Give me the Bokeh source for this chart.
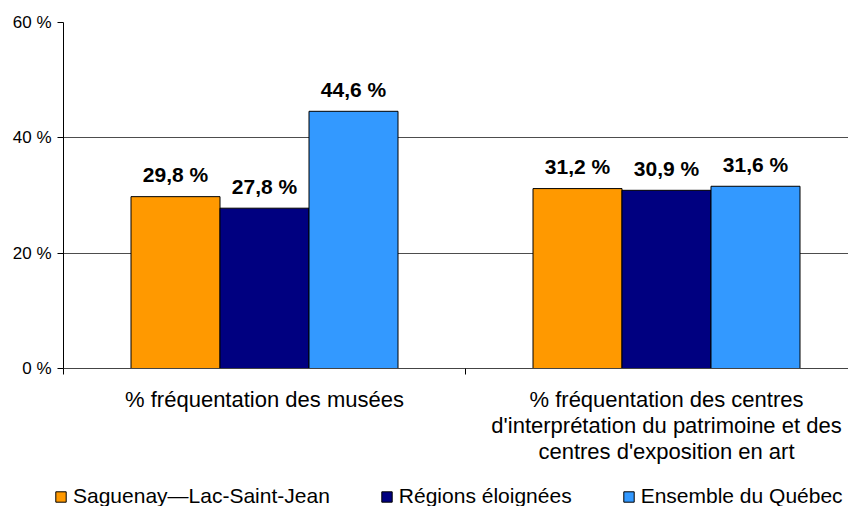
from bokeh.plotting import figure
from bokeh.models import Range1d, FixedTicker, Legend, LegendItem, ColumnDataSource
from bokeh.embed import file_html
from bokeh.resources import INLINE
from bokeh.core.properties import value

categories = [
    "% fréquentation des musées",
    "% fréquentation des centres\nd'interprétation du patrimoine et des\ncentres d'exposition en art",
]
series_names = ["Saguenay—Lac-Saint-Jean", "Régions éloignées", "Ensemble du Québec"]
saguenay = [29.8, 31.2]
regions_eloignees = [27.8, 30.9]
ensemble_quebec = [44.6, 31.6]
y_ticks = [0, 20, 40, 60]
y_tick_labels = ["0 %", "20 %", "40 %", "60 %"]

colors = ["#FF9900", "#000080", "#3399FF"]
series = [saguenay, regions_eloignees, ensemble_quebec]

FONT = "Liberation Sans"
W = 848

p = figure(width=W, height=476, output_backend="svg", toolbar_location=None,
           x_range=Range1d(0, (W - 63) / 402), y_range=Range1d(0, 60),
           min_border_left=63, min_border_right=0, min_border_top=22, min_border_bottom=108)
p.outline_line_color = None
p.background_fill_color = "white"
p.border_fill_color = "white"

bar_w = 89 / 402
offsets = [-bar_w, 0.0, bar_w]
for name, vals, col, off in zip(series_names, series, colors, offsets):
    xs = [i + 0.5 + off for i in range(len(categories))]
    src = ColumnDataSource(dict(x=xs, top=vals,
                                lab=[("%.1f" % v).replace(".", ",") + " %" for v in vals]))
    p.vbar(x="x", top="top", width=bar_w, bottom=0, source=src,
           fill_color=col, line_color="black", line_width=1)
    p.text(x="x", y="top", text="lab", source=src, text_align="center",
           text_baseline="alphabetic", y_offset=-22,
           text_font=value(FONT), text_font_style="bold", text_font_size="21px",
           text_color="black")

# y axis
p.yaxis.ticker = FixedTicker(ticks=y_ticks)
p.yaxis.major_label_overrides = {t: l for t, l in zip(y_ticks, y_tick_labels)}
p.yaxis.major_label_text_font = FONT
p.yaxis.major_label_text_font_size = "17px"
p.yaxis.major_label_text_color = "black"
p.yaxis.axis_line_color = "black"
p.yaxis.major_tick_line_color = "black"
p.yaxis.major_tick_out = 6
p.yaxis.major_tick_in = 0
p.yaxis.minor_tick_line_color = None
p.yaxis.major_label_standoff = 6

# x axis
p.xaxis.ticker = FixedTicker(ticks=[i + 0.5 for i in range(len(categories))],
                             minor_ticks=[0, 1, 2])
p.xaxis.major_label_overrides = {i + 0.5: c for i, c in enumerate(categories)}
p.xaxis.major_label_text_font = FONT
p.xaxis.major_label_text_font_size = "22px"
p.xaxis.major_label_text_color = "black"
p.xaxis.major_label_text_line_height = 1.05
p.xaxis.major_tick_line_color = None
p.xaxis.major_tick_out = 6
p.xaxis.minor_tick_line_color = "black"
p.xaxis.minor_tick_out = 6
p.xaxis.minor_tick_in = 0
p.xaxis.axis_line_color = "#444444"
p.xaxis.major_label_standoff = 12

p.xgrid.grid_line_color = None
p.ygrid.grid_line_color = "#4d4d4d"
p.ygrid.grid_line_width = 1

# legend strip (separate root so its frame is not aligned with the chart's)
q = figure(width=W, height=30, output_backend="svg", toolbar_location=None,
           x_range=Range1d(0, 1), y_range=Range1d(0, 1),
           x_axis_location=None, y_axis_location=None,
           min_border_left=0, min_border_right=0, min_border_top=0, min_border_bottom=0)
q.grid.grid_line_color = None
q.outline_line_color = None
items = []
for name, col in zip(series_names, colors):
    r = q.vbar(x=[10], top=[1], width=0.1, fill_color=col, line_color="black", line_width=1)
    items.append(LegendItem(label=name, renderers=[r]))
legend = Legend(items=items, orientation="horizontal", location=(54, -2),
                label_text_font=FONT, label_text_font_size="21px", label_text_color="black",
                glyph_width=13, glyph_height=13, label_standoff=6, spacing=50,
                padding=0, margin=0, border_line_color=None,
                background_fill_alpha=0)
q.add_layout(legend, "center")

open("out.html", "w").write(file_html([p, q], INLINE))
